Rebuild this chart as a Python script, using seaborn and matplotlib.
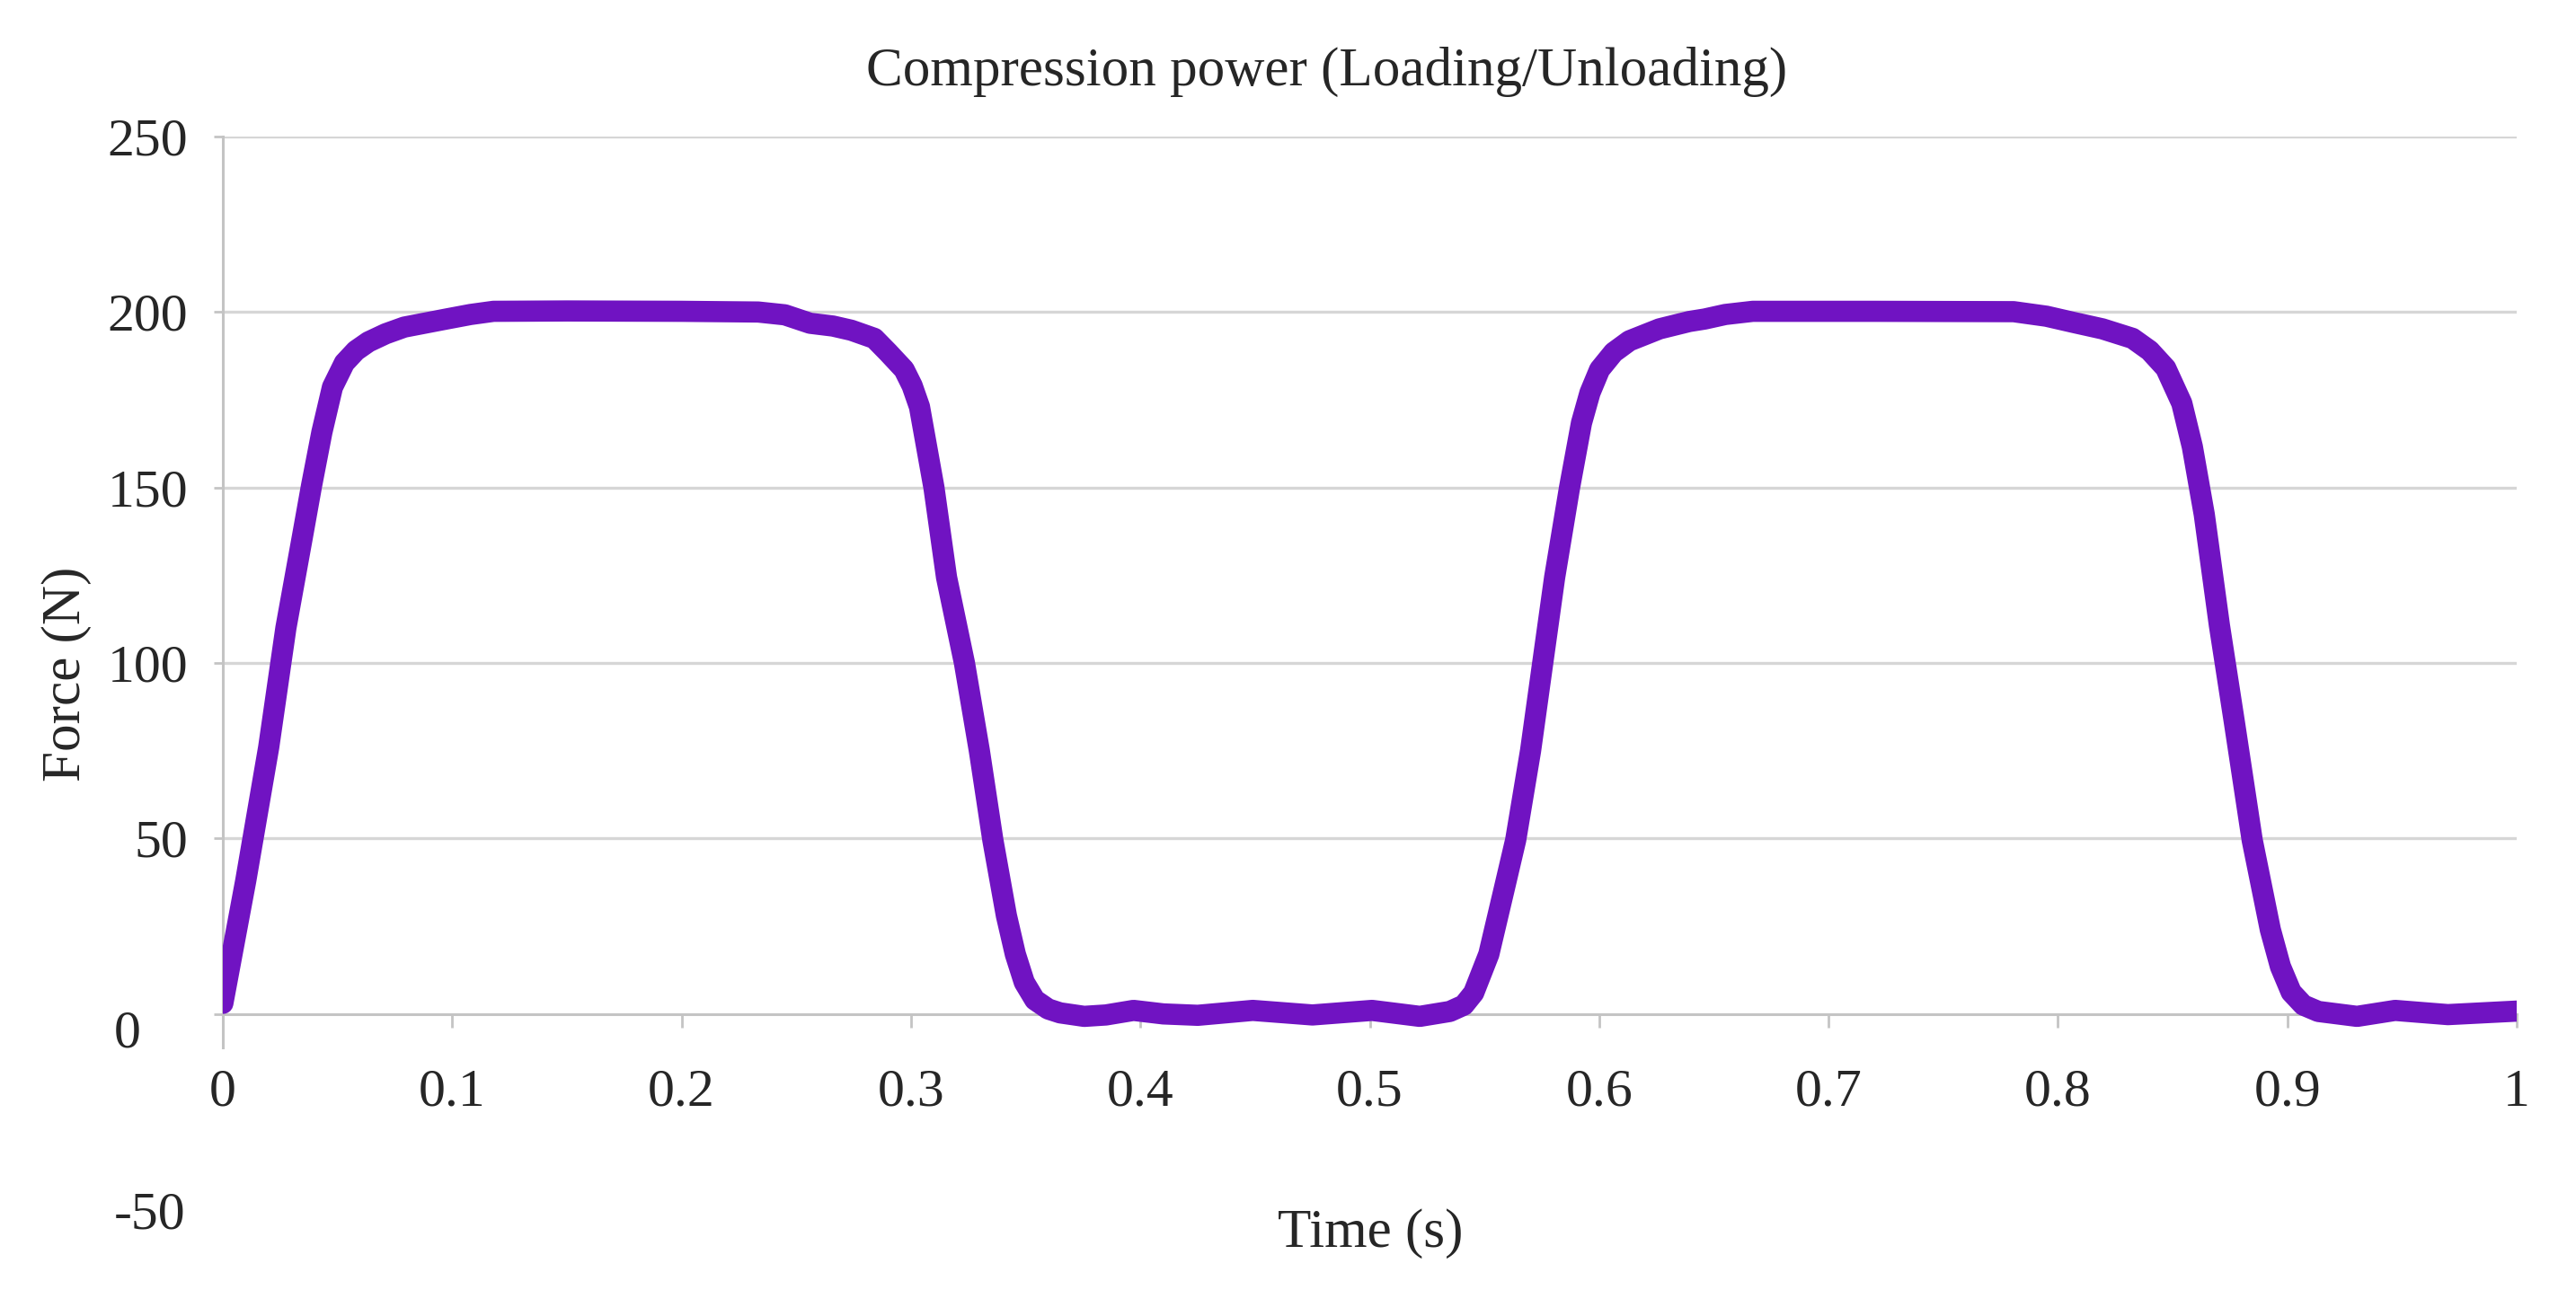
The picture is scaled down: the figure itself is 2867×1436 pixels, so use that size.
import pandas as pd
import seaborn as sns
import matplotlib.pyplot as plt

# Values
time_s = [0.0, 0.01, 0.02, 0.0275, 0.0347, 0.0387, 0.0432, 0.0478, 0.053, 0.058,
          0.0635, 0.071, 0.0791, 0.0974, 0.108, 0.118, 0.15, 0.2, 0.2334, 0.245,
          0.256, 0.266, 0.274, 0.284, 0.29, 0.297, 0.3005, 0.3037, 0.31, 0.3155,
          0.3233, 0.3298, 0.3357, 0.3416, 0.3455, 0.3494, 0.354, 0.3598, 0.365, 0.3755,
          0.385, 0.397, 0.41, 0.425, 0.449, 0.475, 0.501, 0.5218, 0.5349, 0.541,
          0.5453, 0.5519, 0.5584, 0.5636, 0.5701, 0.5754, 0.5806, 0.5871, 0.5923, 0.596,
          0.6002, 0.6063, 0.6132, 0.6263, 0.6393, 0.646, 0.655, 0.667, 0.72, 0.7807,
          0.795, 0.807, 0.8194, 0.8325, 0.84, 0.847, 0.854, 0.8586, 0.8638, 0.8704,
          0.8769, 0.8847, 0.8926, 0.897, 0.9017, 0.907, 0.9135, 0.9304, 0.947, 0.97,
          1.0]
force_n = [3, 38, 76, 110, 136, 150.6, 165.8, 178.6, 185.5, 189,
           191.5, 193.8, 195.7, 198.0, 199.3, 200.2, 200.3, 200.2, 200, 199.2,
           196.8, 196, 194.8, 192.5, 188.5, 183.6, 179, 173, 150, 124.4,
           100, 75, 49.5, 28, 17, 9, 4, 1.4, 0.3, -0.7,
           -0.3, 1.0, 0, -0.4, 1.0, -0.3, 1.0, -0.7, 0.7, 2.5,
           6, 17, 35, 49.5, 75, 100, 124.4, 150, 168.4, 177,
           183.6, 188.5, 191.8, 195.2, 197.3, 198, 199.3, 200.2, 200.2, 200.1,
           198.8, 197, 195.2, 192.5, 189, 184, 174, 161.6, 142.3, 110.7,
           83.2, 49.5, 24, 13.5, 6.2, 2.5, 0.7, -0.7, 1.0, -0.2,
           0.8]

x_ticks = [0, 0.1, 0.2, 0.3, 0.4, 0.5, 0.6, 0.7, 0.8, 0.9, 1]
x_tick_labels = ["0", "0.1", "0.2", "0.3", "0.4", "0.5", "0.6", "0.7", "0.8", "0.9", "1"]
y_ticks = [0, 50, 100, 150, 200, 250]
y_tick_labels = ["", "50", "100", "150", "200", "250"]

W, H = 2867, 1436
line_color = "#7013C2"
grid_color = "#d6d6d6"
axis_color = "#c4c4c4"
fsize = 43

sns.set_style("white")
plt.rcParams["font.family"] = ["Liberation Serif", "DejaVu Serif"]

df = pd.DataFrame({"Time": time_s, "Force": force_n})

fig = plt.figure(figsize=(W / 100, H / 100), dpi=100)
ax = fig.add_axes([248 / W, 1 - 1324 / H, (2801 - 248) / W, (1324 - 152) / H])

for y in y_ticks[1:]:
    ax.axhline(y, color=grid_color, lw=2.4, zorder=0)

sns.lineplot(data=df, x="Time", y="Force", color=line_color, linewidth=17,
             solid_joinstyle="round", solid_capstyle="round", ax=ax, zorder=3)

ax.set_xlim(0, 1)
ax.set_ylim(-50, 250)
ax.set_xticks(x_ticks, x_tick_labels)
ax.set_yticks(y_ticks, y_tick_labels)
ax.set_xlabel("")
ax.set_ylabel("")

sns.despine(ax=ax, top=True, right=True)
ax.spines["bottom"].set_position(("data", 0))
ax.spines["left"].set_bounds(-9.5, 250)
for side in ["bottom", "left"]:
    ax.spines[side].set_color(axis_color)
    ax.spines[side].set_linewidth(2.2)
    ax.spines[side].set_zorder(1)

ax.tick_params(axis="x", direction="out", length=11, width=2, color=axis_color,
               pad=33, labelsize=fsize, bottom=True)
ax.tick_params(axis="y", direction="out", length=7, width=2, color=axis_color,
               pad=21, labelsize=fsize, left=True)

# y labels that sit off the regular tick column
fig.text(127 / W, 1 - 1166 / H, "0", ha="left", va="baseline", fontsize=fsize)
fig.text(127 / W, 1 - 1367 / H, "-50", ha="left", va="baseline", fontsize=fsize)

fig.text(1477 / W, 1 - 95 / H, "Compression power (Loading/Unloading)",
         ha="center", va="baseline", fontsize=fsize + 1)
fig.text(1525 / W, 1 - 1388 / H, "Time (s)", ha="center", va="baseline", fontsize=fsize + 1)
fig.text(89 / W, 1 - 750 / H, "Force (N)", ha="center", va="baseline",
         rotation=90, rotation_mode="anchor", fontsize=fsize + 1)

fig.savefig("out.png", dpi=100)
